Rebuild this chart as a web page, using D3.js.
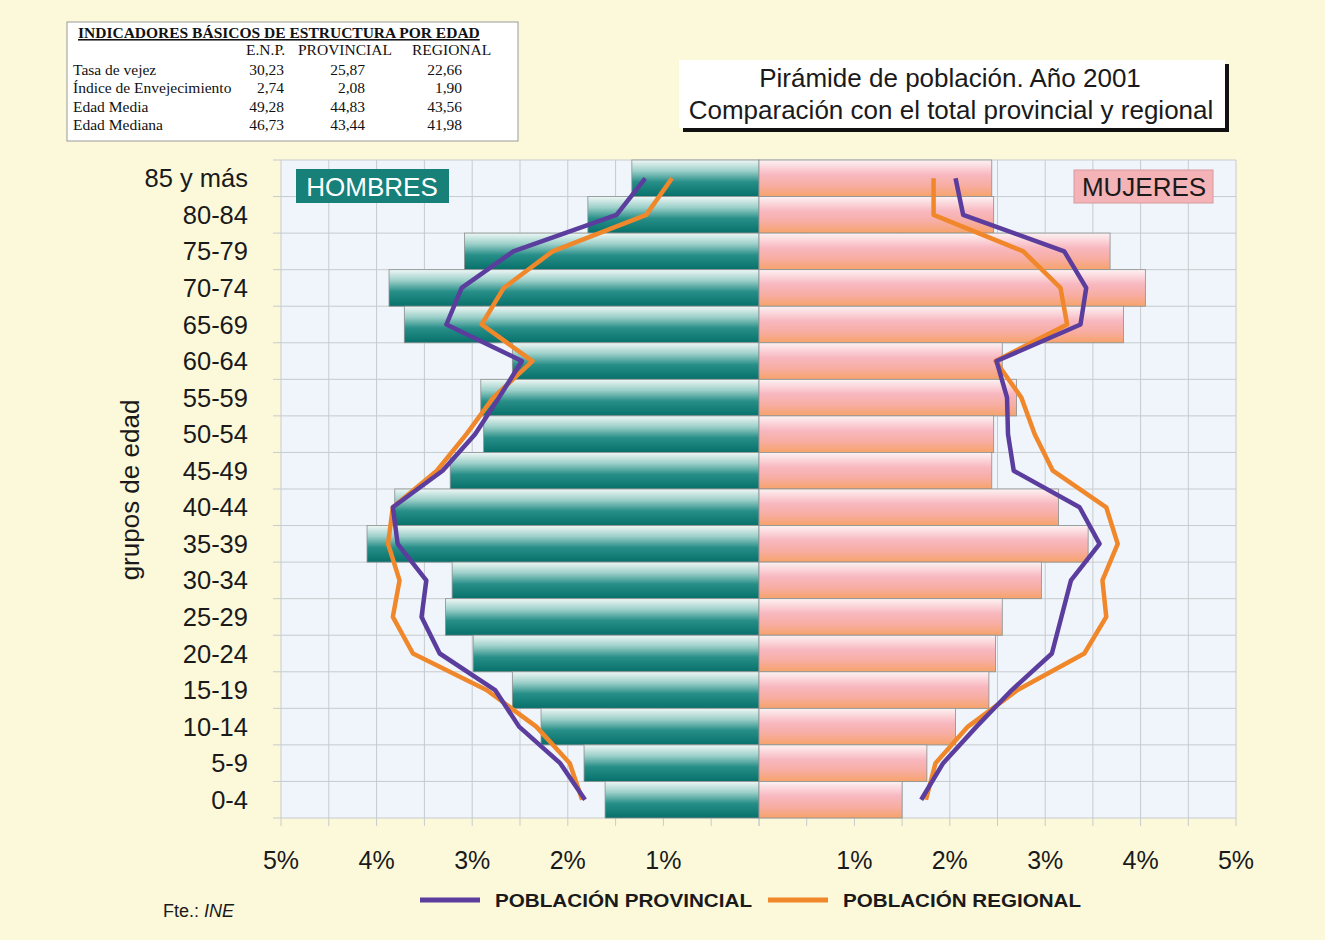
<!DOCTYPE html>
<html lang="es">
<head>
<meta charset="utf-8">
<title>Pirámide de población 2001</title>
<script src="https://cdn.jsdelivr.net/npm/d3@7"></script>
<style>
    body { margin: 0; background: #fcf9dc; }
    svg text { font-family: "Liberation Sans", Arial, sans-serif; }
    .tbl text { font-family: "Liberation Serif", "Times New Roman", serif; font-size: 15.5px; fill: #111; }
    .grid line { stroke: #c6cbce; stroke-width: 1; }
    .bar { stroke: #8a8f8f; stroke-width: 0.8; }
    .line { fill: none; stroke-width: 4.5; stroke-linejoin: round; }
</style>
</head>
<body>
<div id="chart"></div>
<script>

// age groups, top to bottom
const AGES = ["85 y más","80-84","75-79","70-74","65-69","60-64","55-59","50-54","45-49",
              "40-44","35-39","30-34","25-29","20-24","15-19","10-14","5-9","0-4"];

// E.N.P. (bars), % of population
const HOMBRES = [1.33,1.79,3.08,3.87,3.71,2.58,2.91,2.88,3.23,3.81,4.10,3.21,3.28,2.99,2.58,2.28,1.83,1.61];
const MUJERES = [2.44,2.46,3.68,4.05,3.82,2.55,2.70,2.46,2.44,3.14,3.45,2.96,2.55,2.48,2.41,2.06,1.76,1.50];

// provincial / regional profiles
const PROV_H = [1.19,1.49,2.57,3.11,3.27,2.48,2.72,2.97,3.31,3.83,3.78,3.48,3.53,3.34,2.76,2.51,2.08,1.82];
const REG_H  = [0.91,1.18,2.16,2.67,2.90,2.37,2.78,3.06,3.37,3.83,3.88,3.76,3.83,3.62,2.85,2.33,1.98,1.85];
const PROV_M = [2.06,2.14,3.20,3.43,3.37,2.49,2.60,2.61,2.67,3.36,3.57,3.27,3.17,3.07,2.65,2.28,1.93,1.70];
const REG_M  = [1.83,1.83,2.77,3.16,3.23,2.48,2.75,2.89,3.08,3.64,3.76,3.60,3.64,3.41,2.71,2.19,1.85,1.75];

const TICKS = [1,2,3,4,5];

// indicators table
const TBL_COLS = ["E.N.P.","PROVINCIAL","REGIONAL"];
const TBL_ROWS = ["Tasa de vejez","Índice de Envejecimiento","Edad Media","Edad Mediana"];
const TBL_ENP  = ["30,23","2,74","49,28","46,73"];
const TBL_PROV = ["25,87","2,08","44,83","43,44"];
const TBL_REG  = ["22,66","1,90","43,56","41,98"];

const WIDTH = 1325, HEIGHT = 940;
const PLOT = {left: 281, right: 1236, top: 160, bottom: 818};
const CENTER = 759;
const C_PROV = "#5b3d9e", C_REG = "#f0872a";

let svg = d3.select("#chart").append("svg")
    .attr("width", WIDTH)
    .attr("height", HEIGHT);

svg.append("rect").attr("width", WIDTH).attr("height", HEIGHT).attr("fill", "#fcf9da");

// gradients
let defs = svg.append("defs");
let gH = defs.append("linearGradient").attr("id","gradH").attr("x1",0).attr("y1",0).attr("x2",0).attr("y2",1);
[[0,"#eef7f5"],[0.3,"#9ccfc9"],[0.6,"#278f88"],[1,"#07706a"]].forEach(s => {
    gH.append("stop").attr("offset", s[0]).attr("stop-color", s[1]);
});
let gM = defs.append("linearGradient").attr("id","gradM").attr("x1",0).attr("y1",0).attr("x2",0).attr("y2",1);
[[0,"#fdf2f3"],[0.4,"#f8b8c0"],[0.7,"#f7ada2"],[1,"#f7a36a"]].forEach(s => {
    gM.append("stop").attr("offset", s[0]).attr("stop-color", s[1]);
});

// scales
let xL = d3.scaleLinear().domain([0,5]).range([CENTER, PLOT.left]);
let xR = d3.scaleLinear().domain([0,5]).range([CENTER, PLOT.right]);
let y = d3.scaleBand().domain(AGES).range([PLOT.top, PLOT.bottom]).padding(0);

// plot background + grid
svg.append("rect")
    .attr("x", PLOT.left).attr("y", PLOT.top)
    .attr("width", PLOT.right - PLOT.left).attr("height", PLOT.bottom - PLOT.top)
    .attr("fill", "#eff5fa");

let grid = svg.append("g").attr("class","grid");
let halfSteps = d3.range(0, 5.01, 0.5);
grid.selectAll(".vl").data(halfSteps).enter().append("line")
    .attr("x1", d => xL(d)).attr("x2", d => xL(d))
    .attr("y1", PLOT.top).attr("y2", PLOT.bottom + 8);
grid.selectAll(".vr").data(halfSteps).enter().append("line")
    .attr("x1", d => xR(d)).attr("x2", d => xR(d))
    .attr("y1", PLOT.top).attr("y2", PLOT.bottom + 8);
grid.selectAll(".hl").data(AGES.concat(["end"])).enter().append("line")
    .attr("x1", PLOT.left - 8).attr("x2", PLOT.right)
    .attr("y1", (d,i) => PLOT.top + i * y.bandwidth())
    .attr("y2", (d,i) => PLOT.top + i * y.bandwidth());

// bars
svg.selectAll(".barH").data(HOMBRES).enter().append("rect")
    .attr("class","bar")
    .attr("x", d => xL(d))
    .attr("y", (d,i) => y(AGES[i]))
    .attr("width", d => CENTER - xL(d))
    .attr("height", y.bandwidth())
    .attr("fill", "url(#gradH)");

svg.selectAll(".barM").data(MUJERES).enter().append("rect")
    .attr("class","bar")
    .attr("x", CENTER)
    .attr("y", (d,i) => y(AGES[i]))
    .attr("width", d => xR(d) - CENTER)
    .attr("height", y.bandwidth())
    .attr("fill", "url(#gradM)");

// profile lines
let yc = i => y(AGES[i]) + y.bandwidth() / 2;
let lineL = d3.line().x(d => xL(d)).y((d,i) => yc(i));
let lineR = d3.line().x(d => xR(d)).y((d,i) => yc(i));

svg.append("path").datum(REG_H).attr("class","line").attr("stroke", C_REG).attr("d", lineL);
svg.append("path").datum(PROV_H).attr("class","line").attr("stroke", C_PROV).attr("d", lineL);
svg.append("path").datum(REG_M).attr("class","line").attr("stroke", C_REG).attr("d", lineR);
svg.append("path").datum(PROV_M).attr("class","line").attr("stroke", C_PROV).attr("d", lineR);

// sex labels
svg.append("rect").attr("x",296).attr("y",169).attr("width",153).attr("height",34).attr("fill","#168079");
svg.append("text").attr("x",372).attr("y",196).attr("text-anchor","middle")
    .attr("font-size",26).attr("fill","#fff").text("HOMBRES");
svg.append("rect").attr("x",1074).attr("y",170).attr("width",139).attr("height",33)
    .attr("fill","#f4b3b7").attr("stroke","#d99a9f");
svg.append("text").attr("x",1144).attr("y",196).attr("text-anchor","middle")
    .attr("font-size",26).attr("fill","#1a1a1a").text("MUJERES");

// y labels
svg.selectAll(".ylab").data(AGES).enter().append("text")
    .attr("x", 248)
    .attr("y", d => y(d) + y.bandwidth() / 2 + 9)
    .attr("text-anchor","end")
    .attr("font-size",25.5)
    .attr("fill","#1a1a1a")
    .text(d => d);

svg.append("text")
    .attr("transform","translate(139,490) rotate(-90)")
    .attr("text-anchor","middle")
    .attr("font-size",26)
    .attr("fill","#1a1a1a")
    .text("grupos de edad");

// x tick labels
svg.selectAll(".xtl").data(TICKS).enter().append("text")
    .attr("x", d => xL(d)).attr("y", 869).attr("text-anchor","middle")
    .attr("font-size",25).attr("fill","#1a1a1a").text(d => d + "%");
svg.selectAll(".xtr").data(TICKS).enter().append("text")
    .attr("x", d => xR(d)).attr("y", 869).attr("text-anchor","middle")
    .attr("font-size",25).attr("fill","#1a1a1a").text(d => d + "%");

// legend
let legend = [{name:"POBLACIÓN PROVINCIAL", c:C_PROV, x:420, w:257},
              {name:"POBLACIÓN REGIONAL", c:C_REG, x:768, w:238}];
legend.forEach(l => {
    svg.append("line").attr("x1", l.x).attr("x2", l.x + 60).attr("y1",900).attr("y2",900)
        .attr("stroke", l.c).attr("stroke-width",5);
    svg.append("text").attr("x", l.x + 75).attr("y", 907)
        .attr("font-size",19).attr("font-weight","bold").attr("fill","#1a1a1a")
        .attr("textLength", l.w).attr("lengthAdjust","spacingAndGlyphs")
        .text(l.name);
});

let src = svg.append("text").attr("x",163).attr("y",917).attr("font-size",18).attr("fill","#1a1a1a");
src.append("tspan").text("Fte.: ");
src.append("tspan").attr("font-style","italic").text("INE");

// title box
svg.append("rect").attr("x",683).attr("y",64).attr("width",546).attr("height",68).attr("fill","#111");
svg.append("rect").attr("x",679).attr("y",60).attr("width",546).attr("height",68).attr("fill","#fff");
svg.append("text").attr("x",950).attr("y",87).attr("text-anchor","middle")
    .attr("font-size",26).attr("fill","#1a1a1a").text("Pirámide de población. Año 2001");
svg.append("text").attr("x",951).attr("y",119).attr("text-anchor","middle")
    .attr("font-size",26).attr("fill","#1a1a1a").text("Comparación con el total provincial y regional");

// indicators table
let tbl = svg.append("g").attr("class","tbl");
tbl.append("rect").attr("x",67).attr("y",22).attr("width",451).attr("height",119)
    .attr("fill","#fff").attr("stroke","#9a9a9a");
tbl.append("text").attr("x",78).attr("y",38).attr("font-weight","bold")
    .attr("text-decoration","underline").text("INDICADORES BÁSICOS DE ESTRUCTURA POR EDAD");
let colX = [246, 298, 412];
TBL_COLS.forEach((c,i) => {
    tbl.append("text").attr("x", colX[i]).attr("y",55).text(c);
});
let valRight = [284, 365, 462];
TBL_ROWS.forEach((r,i) => {
    let ty = 75 + i * 18.3;
    tbl.append("text").attr("x",73).attr("y",ty).text(r);
    tbl.append("text").attr("x",valRight[0]).attr("y",ty).attr("text-anchor","end").text(TBL_ENP[i]);
    tbl.append("text").attr("x",valRight[1]).attr("y",ty).attr("text-anchor","end").text(TBL_PROV[i]);
    tbl.append("text").attr("x",valRight[2]).attr("y",ty).attr("text-anchor","end").text(TBL_REG[i]);
});

</script>
</body>
</html>
